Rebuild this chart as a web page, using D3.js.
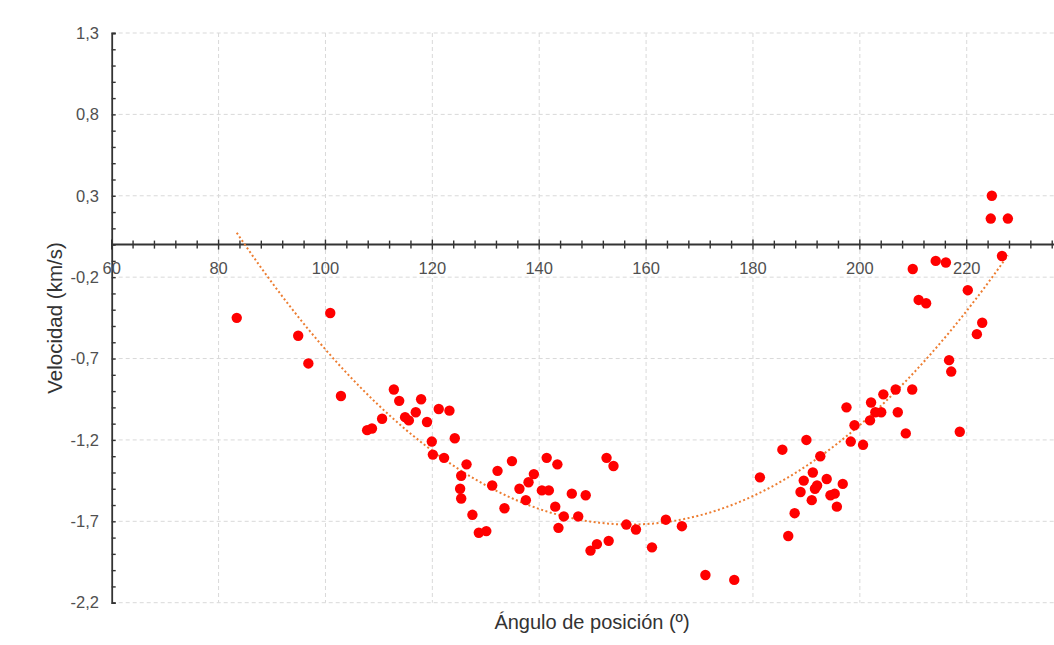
<html>
<head>
    <script src="https://d3js.org/d3.v7.min.js"></script>
    <style>
        body { margin: 0; background: #fff; }
        text { font-family: "Liberation Sans", Arial, sans-serif; }
    </style>
</head>
<body>
    <svg id="chart" width="1054" height="645"></svg>
    <script>
        // position angle (deg) and velocity (km/s)
        const angle = [83.4, 94.9, 96.8, 100.9, 102.9, 107.8, 108.7, 110.6, 112.8, 113.8,
            114.9, 115.6, 116.9, 117.9, 119.0, 119.9, 120.1, 121.2, 122.2, 123.2,
            124.2, 126.4, 125.4, 125.2, 125.4, 127.5, 128.7, 130.1, 131.2, 132.2,
            133.5, 134.9, 136.3, 137.5, 138.0, 139.0, 140.5, 141.8, 141.4, 143.4,
            143.0, 144.6, 143.6, 146.1, 148.7, 147.3, 149.6, 150.8, 153.0, 152.6,
            153.9, 156.3, 158.1, 161.1, 163.7, 166.7, 171.1, 176.5, 181.3, 185.5,
            190.0, 186.6, 187.8, 188.9, 189.5, 191.0, 191.2, 191.6, 192.0, 192.6,
            193.8, 194.5, 195.3, 195.7, 196.8, 197.5, 198.3, 199.0, 200.6, 202.1,
            201.9, 202.9, 204.0, 204.4, 206.7, 207.1, 208.6, 209.8, 209.9, 211.0,
            212.4, 214.2, 216.1, 216.7, 217.1, 218.7, 220.2, 221.9, 222.9, 224.7,
            224.5, 227.7, 226.6];
        const velocity = [-0.45, -0.56, -0.73, -0.42, -0.93, -1.14, -1.13, -1.07, -0.89, -0.96,
            -1.06, -1.08, -1.03, -0.95, -1.09, -1.21, -1.29, -1.01, -1.31, -1.02,
            -1.19, -1.35, -1.42, -1.50, -1.56, -1.66, -1.77, -1.76, -1.48, -1.39,
            -1.62, -1.33, -1.50, -1.57, -1.46, -1.41, -1.51, -1.51, -1.31, -1.35,
            -1.61, -1.67, -1.74, -1.53, -1.54, -1.67, -1.88, -1.84, -1.82, -1.31,
            -1.36, -1.72, -1.75, -1.86, -1.69, -1.73, -2.03, -2.06, -1.43, -1.26,
            -1.20, -1.79, -1.65, -1.52, -1.45, -1.57, -1.40, -1.50, -1.48, -1.30,
            -1.44, -1.54, -1.53, -1.61, -1.47, -1.00, -1.21, -1.11, -1.23, -0.97,
            -1.08, -1.03, -1.03, -0.92, -0.89, -1.03, -1.16, -0.89, -0.15, -0.34,
            -0.36, -0.10, -0.11, -0.71, -0.78, -1.15, -0.28, -0.55, -0.48, 0.30,
            0.16, 0.16, -0.07];

        const yTicks = [1.3, 0.8, 0.3, -0.2, -0.7, -1.2, -1.7, -2.2];
        const xTicks = [60, 80, 100, 120, 140, 160, 180, 200, 220];
        const xTitle = "Ángulo de posición (º)";
        const yTitle = "Velocidad (km/s)";

        const data = angle.map((a, i) => ({x: a, y: velocity[i]}));

        const svg = d3.select("#chart");
        const W = 1054, H = 645;

        const x = d3.scaleLinear().domain([60, 240]).range([111.7, 1073.6]);
        const y = d3.scaleLinear().domain([-2.2, 1.3]).range([602.7, 33]);

        // grid
        svg.append("g").selectAll("line").data(d3.range(80, 241, 20))
            .join("line")
            .attr("x1", d => x(d)).attr("x2", d => x(d))
            .attr("y1", y(1.3)).attr("y2", y(-2.2))
            .attr("stroke", "#d9d9d9").attr("stroke-dasharray", "4,3");
        svg.append("g").selectAll("line").data(yTicks)
            .join("line")
            .attr("x1", x(60)).attr("x2", W)
            .attr("y1", d => y(d)).attr("y2", d => y(d))
            .attr("stroke", "#d9d9d9").attr("stroke-dasharray", "4,3");

        // y axis (ticks point inward)
        const yAxis = svg.append("g").attr("transform", `translate(${x(60)},0)`)
            .call(d3.axisRight(y).tickValues(d3.range(-22, 14).map(d => d / 10))
                .tickSize(4).tickFormat(""));
        yAxis.selectAll("line").attr("stroke", "#333").attr("stroke-width", 1.4);
        yAxis.select(".domain").attr("stroke", "#333").attr("stroke-width", 1.8);

        svg.append("g").selectAll("text").data(yTicks)
            .join("text")
            .attr("x", 99).attr("y", d => y(d))
            .attr("text-anchor", "end").attr("dy", "0.35em")
            .attr("font-size", 16.5).attr("fill", "#505050")
            .text(d => d3.format(".1f")(d).replace(".", ",").replace("−", "-"));

        // x axis at y = 0, crossing ticks
        const xg = svg.append("g");
        xg.append("line")
            .attr("x1", x(60)).attr("x2", W)
            .attr("y1", y(0)).attr("y2", y(0))
            .attr("stroke", "#333").attr("stroke-width", 2);
        xg.selectAll("line.tk").data(d3.range(60, 241, 4))
            .join("line").attr("class", "tk")
            .attr("x1", d => x(d)).attr("x2", d => x(d))
            .attr("y1", d => y(0) - (d % 20 === 0 ? 5 : 4))
            .attr("y2", d => y(0) + (d % 20 === 0 ? 5 : 4))
            .attr("stroke", "#333").attr("stroke-width", 1.4);
        xg.selectAll("text").data(xTicks)
            .join("text")
            .attr("x", d => x(d)).attr("y", y(0) + 29)
            .attr("text-anchor", "middle")
            .attr("font-size", 16.5).attr("fill", "#505050")
            .text(d => d);

        // quadratic trendline (least squares) from the points
        const mx = d3.mean(data, d => d.x);
        let s = [0, 0, 0, 0, 0], t = [0, 0, 0];
        data.forEach(d => {
            const u = d.x - mx;
            for (let k = 0; k < 5; k++) s[k] += Math.pow(u, k);
            for (let k = 0; k < 3; k++) t[k] += d.y * Math.pow(u, k);
        });
        const A = [[s[0], s[1], s[2]], [s[1], s[2], s[3]], [s[2], s[3], s[4]]];
        const det3 = m => m[0][0] * (m[1][1] * m[2][2] - m[1][2] * m[2][1])
            - m[0][1] * (m[1][0] * m[2][2] - m[1][2] * m[2][0])
            + m[0][2] * (m[1][0] * m[2][1] - m[1][1] * m[2][0]);
        const D = det3(A);
        const coef = [0, 1, 2].map(c => det3(A.map((row, r) => row.map((v, j) => j === c ? t[r] : v))) / D);
        const fit = v => coef[0] + coef[1] * (v - mx) + coef[2] * (v - mx) * (v - mx);

        const [xmin, xmax] = d3.extent(data, d => d.x);
        const curve = d3.range(0, 101).map(i => xmin + (xmax - xmin) * i / 100);
        svg.append("path")
            .datum(curve)
            .attr("fill", "none")
            .attr("stroke", "#ed7d31")
            .attr("stroke-width", 2)
            .attr("stroke-dasharray", "2,2.5")
            .attr("d", d3.line().x(d => x(d)).y(d => y(fit(d))));

        // points
        svg.append("g").selectAll("circle").data(data)
            .join("circle")
            .attr("cx", d => x(d.x)).attr("cy", d => y(d.y))
            .attr("r", 5.2)
            .attr("fill", "#ff0000");

        // axis titles
        svg.append("text")
            .attr("x", 592).attr("y", 629)
            .attr("text-anchor", "middle")
            .attr("font-size", 20).attr("fill", "#333")
            .text(xTitle);
        svg.append("text")
            .attr("transform", "translate(62,318) rotate(-90)")
            .attr("text-anchor", "middle")
            .attr("font-size", 20.5).attr("fill", "#333")
            .text(yTitle);
    </script>
</body>
</html>
